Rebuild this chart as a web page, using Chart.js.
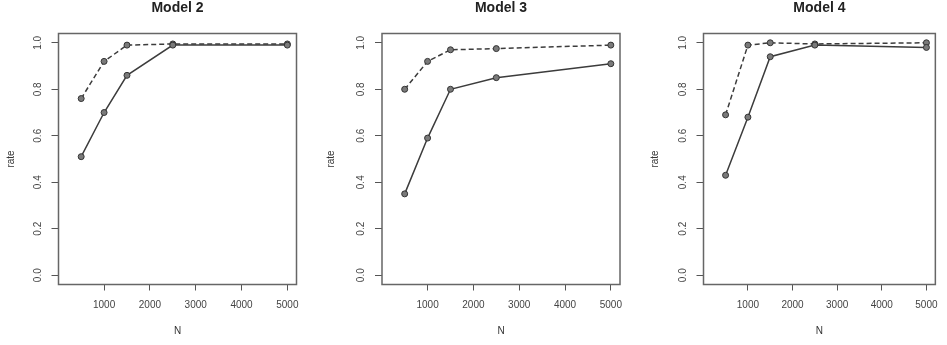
<!DOCTYPE html>
<html>
<head>
<meta charset="utf-8">
<script src="https://cdn.jsdelivr.net/npm/chart.js@4.4.1/dist/chart.umd.min.js"></script>
<style>
    body { margin: 0; background: #fff; width: 947px; height: 345px; position: relative; overflow: hidden; }
    .panel { position: absolute; top: 0; height: 345px; }
</style>
</head>
<body>
<div class="panel" style="left:0"><canvas id="model2" width="316" height="345"></canvas></div>
<div class="panel" style="left:316px"><canvas id="model3" width="316" height="345"></canvas></div>
<div class="panel" style="left:632px"><canvas id="model4" width="315" height="345"></canvas></div>
<script>
const sampleSizes = [500, 1000, 1500, 2500, 5000];

const model2Solid = [0.51, 0.70, 0.86, 0.99, 0.99];
const model2Dashed = [0.76, 0.92, 0.99, 0.995, 0.995];

const model3Solid = [0.35, 0.59, 0.80, 0.85, 0.91];
const model3Dashed = [0.80, 0.92, 0.97, 0.975, 0.99];

const model4Solid = [0.43, 0.68, 0.94, 0.99, 0.98];
const model4Dashed = [0.69, 0.99, 1.0, 0.995, 1.0];

const xTickValues = [1000, 2000, 3000, 4000, 5000];
const yTickValues = [0, 0.2, 0.4, 0.6, 0.8, 1.0];

// the R-style frame around the plot region
const boxPlugin = {
    id: 'box',
    beforeDatasetsDraw(chart) {
        const { ctx, chartArea: a } = chart;
        ctx.save();
        ctx.strokeStyle = '#666';
        ctx.lineWidth = 1.5;
        ctx.strokeRect(a.left, a.top, a.right - a.left, a.bottom - a.top);
        ctx.restore();
    }
};

function series(values, dashed) {
    return {
        data: sampleSizes.map((n, i) => ({ x: n, y: values[i] })),
        borderColor: '#3c3c3c',
        borderWidth: 1.5,
        borderDash: dashed ? [5, 3] : [],
        pointRadius: 3,
        pointBackgroundColor: '#7a7a7a',
        pointBorderColor: '#333',
        pointBorderWidth: 1,
        tension: 0,
        clip: false
    };
}

function makePanel(id, title, solid, dashed, geo) {
    const canvas = document.getElementById(id);
    const axisFont = { family: 'Liberation Sans, Arial, sans-serif', size: 10 };
    new Chart(canvas, {
        type: 'line',
        data: { datasets: [series(solid, false), series(dashed, true)] },
        plugins: [boxPlugin],
        options: {
            responsive: false,
            animation: false,
            layout: { padding: { left: 0, right: canvas.width - geo.boxRight, top: 0, bottom: 0 } },
            plugins: {
                legend: { display: false },
                tooltip: { enabled: false },
                title: {
                    display: true,
                    text: title,
                    fullSize: false,
                    color: '#222',
                    font: { family: 'Liberation Sans, Arial, sans-serif', size: 14, weight: 'bold', lineHeight: 1 },
                    padding: { top: 1, bottom: 33.5 - 15 }
                }
            },
            scales: {
                x: {
                    type: 'linear',
                    min: 5,
                    max: 5200,
                    afterBuildTicks: s => { s.ticks = xTickValues.map(v => ({ value: v })); },
                    afterFit: s => { s.height = 345 - 284.5; },
                    grid: { display: true, drawOnChartArea: false, drawTicks: true, tickLength: 6, color: '#555', lineWidth: 1 },
                    border: { display: false },
                    ticks: {
                        maxRotation: 0,
                        autoSkip: false,
                        padding: 9,
                        color: '#444',
                        font: axisFont,
                        callback: v => String(v)
                    },
                    title: { display: true, text: 'N', color: '#333', font: axisFont, padding: { top: 0, bottom: 7.5 } }
                },
                y: {
                    min: -0.04,
                    max: 1.04,
                    afterBuildTicks: s => { s.ticks = yTickValues.map(v => ({ value: v })); },
                    afterFit: s => { s.width = geo.boxLeft; },
                    grid: { display: true, drawOnChartArea: false, drawTicks: true, tickLength: 7, color: '#555', lineWidth: 1 },
                    border: { display: false },
                    ticks: {
                        minRotation: 90,
                        maxRotation: 90,
                        autoSkip: false,
                        crossAlign: 'center',
                        padding: 6.5,
                        color: '#444',
                        font: axisFont,
                        callback: v => v.toFixed(1)
                    },
                    title: { display: true, text: 'rate', color: '#333', font: axisFont, padding: { top: geo.rateX - 6, bottom: 0 } }
                }
            }
        }
    });
}

makePanel('model2', 'Model 2', model2Solid, model2Dashed, { boxLeft: 58.5, boxRight: 296.5, rateX: 11.7 });
makePanel('model3', 'Model 3', model3Solid, model3Dashed, { boxLeft: 66, boxRight: 304, rateX: 15.7 });
makePanel('model4', 'Model 4', model4Solid, model4Dashed, { boxLeft: 71.5, boxRight: 308.5, rateX: 23 });
</script>
</body>
</html>
